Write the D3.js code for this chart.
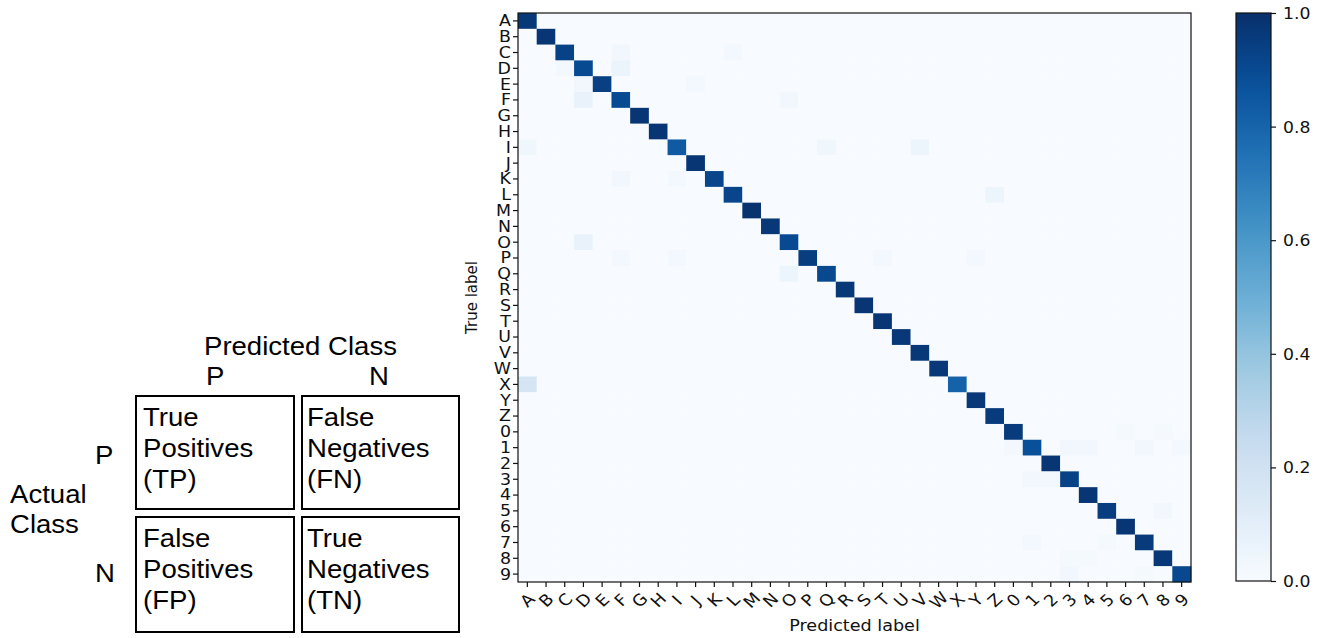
<!DOCTYPE html>
<html>
<head>
<meta charset="utf-8">
<script src="https://cdn.jsdelivr.net/npm/d3@7/dist/d3.min.js"></script>
<style>
  html, body { margin: 0; padding: 0; background: #fff; }
  svg { display: block; }
</style>
</head>
<body>
<svg id="chart" width="1324" height="638"></svg>
<script>
// ---------------- DATA ----------------
const classLabels = ["A","B","C","D","E","F","G","H","I","J","K","L","M","N","O","P","Q","R",
  "S","T","U","V","W","X","Y","Z","0","1","2","3","4","5","6","7","8","9"];

// diagonal (correct) rates per class, in classLabels order
const diagValues = [0.97,0.98,0.93,0.90,0.94,0.90,0.98,0.98,0.84,0.98,0.92,0.92,0.99,0.97,0.90,0.95,0.91,0.97,
  0.98,0.98,0.97,0.97,0.97,0.81,0.97,0.96,0.96,0.88,0.98,0.93,0.98,0.95,0.98,0.96,0.97,0.91];

// off-diagonal confusions: true label, predicted label, rate
const offRows   = ["C","C","D","D","E","E","F","F","I","I","I","K","K","L","O","P","P","P","P","Q","X",
  "0","0","1","1","1","1","1","3","3","5","7","7","8","8","9","9"];
const offCols   = ["F","L","C","F","D","J","D","O","A","Q","V","F","I","Z","D","F","I","T","Y","O","A",
  "6","8","0","3","4","7","9","1","2","8","1","5","3","4","3","7"];
const offValues = [0.03,0.02,0.02,0.06,0.03,0.02,0.07,0.03,0.04,0.04,0.05,0.03,0.02,0.05,0.07,0.02,0.02,0.02,0.02,0.05,0.17,
  0.015,0.015,0.02,0.03,0.03,0.03,0.02,0.03,0.03,0.03,0.02,0.015,0.015,0.015,0.03,0.015];

const colorbarTicks = [0, 0.2, 0.4, 0.6, 0.8, 1.0];
const bluesStops = ["#f7fbff","#deebf7","#c6dbef","#9ecae1","#6baed6","#4292c6","#2171b5","#08519c","#08306b"];

// schematic confusion-matrix labels
const schemaTitle = "Predicted Class";
const schemaColHeads = ["P","N"];
const schemaRowHeads = ["P","N"];
const schemaRowTitle = ["Actual","Class"];
const schemaCells = [
  ["True","Positives","(TP)"], ["False","Negatives","(FN)"],
  ["False","Positives","(FP)"], ["True","Negatives","(TN)"]
];

// ---------------- BUILD MATRIX ----------------
const matrix = [];
classLabels.forEach((r, i) => classLabels.forEach((c, j) => {
  matrix.push({row: r, col: c, v: i === j ? diagValues[i] : 0});
}));
offRows.forEach((r, k) => {
  const cell = matrix.find(d => d.row === r && d.col === offCols[k]);
  cell.v = offValues[k];
});

// ---------------- DRAW ----------------
const svg = d3.select("#chart");
const tickFont = "'DejaVu Sans', sans-serif";

const plot = {left: 518, right: 1191, top: 13, bottom: 582};
const x = d3.scaleBand().domain(classLabels).range([plot.left, plot.right]);
const y = d3.scaleBand().domain(classLabels).range([plot.top, plot.bottom]);
const color = d3.scaleLinear()
  .domain(bluesStops.map((_, i) => i / (bluesStops.length - 1)))
  .range(bluesStops)
  .clamp(true);

svg.append("g").selectAll("rect").data(matrix).join("rect")
  .attr("x", d => x(d.col))
  .attr("y", d => y(d.row))
  .attr("width", x.bandwidth() + 0.3)
  .attr("height", y.bandwidth() + 0.3)
  .attr("fill", d => color(d.v));

svg.append("rect")
  .attr("x", plot.left).attr("y", plot.top)
  .attr("width", plot.right - plot.left).attr("height", plot.bottom - plot.top)
  .attr("fill", "none").attr("stroke", "#111").attr("stroke-width", 1.2);

// y axis
const gy = svg.append("g").attr("transform", `translate(${plot.left},0)`)
  .call(d3.axisLeft(y).tickSize(5).tickSizeOuter(0));
gy.select(".domain").remove();
gy.selectAll(".tick line").attr("stroke", "#111").attr("stroke-width", 1.2);
gy.selectAll(".tick text")
  .attr("x", null).attr("dy", "0.36em")
  .attr("transform", `translate(-7,0) scale(1.16,1)`)
  .attr("text-anchor", "end")
  .style("font-family", tickFont).style("font-size", "15px").attr("fill", "#111");

// x axis
const gx = svg.append("g").attr("transform", `translate(0,${plot.bottom})`)
  .call(d3.axisBottom(x).tickSize(5).tickSizeOuter(0));
gx.select(".domain").remove();
gx.selectAll(".tick line").attr("stroke", "#111").attr("stroke-width", 1.2);
gx.selectAll(".tick text")
  .attr("y", null).attr("dy", "0.36em")
  .attr("transform", `translate(0,18) scale(1.1,1) rotate(-45)`)
  .attr("text-anchor", "middle")
  .style("font-family", tickFont).style("font-size", "16px").attr("fill", "#111");

svg.append("text")
  .attr("transform", `translate(${(plot.left + plot.right) / 2},631) scale(1.1,1)`)
  .attr("text-anchor", "middle")
  .style("font-family", tickFont).style("font-size", "16px").attr("fill", "#111")
  .text("Predicted label");

svg.append("text")
  .attr("transform", `translate(477,${(plot.top + plot.bottom) / 2}) scale(1.1,1) rotate(-90)`)
  .attr("text-anchor", "middle")
  .style("font-family", tickFont).style("font-size", "15px").attr("fill", "#111")
  .text("True label");

// colorbar
const cb = {left: 1236, right: 1271, top: 13, bottom: 581};
const cy = d3.scaleLinear().domain([0, 1]).range([cb.bottom, cb.top]);
const defs = svg.append("defs");
const grad = defs.append("linearGradient").attr("id", "cbgrad")
  .attr("x1", 0).attr("y1", 1).attr("x2", 0).attr("y2", 0);
grad.selectAll("stop").data(d3.range(0, 1.0001, 0.05)).join("stop")
  .attr("offset", d => d).attr("stop-color", d => color(d));
svg.append("rect")
  .attr("x", cb.left).attr("y", cb.top)
  .attr("width", cb.right - cb.left).attr("height", cb.bottom - cb.top)
  .attr("fill", "url(#cbgrad)").attr("stroke", "#111").attr("stroke-width", 1.2);
const gc = svg.append("g").attr("transform", `translate(${cb.right},0)`)
  .call(d3.axisRight(cy).tickValues(colorbarTicks).tickFormat(d3.format(".1f")).tickSize(5).tickSizeOuter(0));
gc.select(".domain").remove();
gc.selectAll(".tick line").attr("stroke", "#111").attr("stroke-width", 1.2);
gc.selectAll(".tick text")
  .attr("x", null).attr("dy", "0.36em")
  .attr("transform", `translate(12,0) scale(1.15,1)`)
  .attr("text-anchor", "start")
  .style("font-family", tickFont).style("font-size", "15px").attr("fill", "#111");

// ---------------- SCHEMATIC ----------------
const sFont = "'Liberation Sans', Arial, sans-serif";
const SS = 1.06;
function sText(tx, ty, str) {
  svg.append("text")
    .attr("transform", `translate(${tx},${ty}) scale(${SS},1)`)
    .style("font-family", sFont).style("font-size", "26px").attr("fill", "#000")
    .text(str);
}
sText(204, 355, schemaTitle);
const colX = [206, 369];
schemaColHeads.forEach((t, i) => sText(colX[i], 385, t));
const rowY = [464, 582];
schemaRowHeads.forEach((t, i) => sText(95, rowY[i], t));
schemaRowTitle.forEach((t, i) => sText(10, 503 + i * 30, t));

const boxes = [
  {x: 136, y: 396, w: 158, h: 113, tx: 143, ty: 426},
  {x: 302, y: 396, w: 157, h: 113, tx: 307, ty: 426},
  {x: 136, y: 517, w: 158, h: 115, tx: 143, ty: 547},
  {x: 302, y: 517, w: 157, h: 115, tx: 307, ty: 547}
];
boxes.forEach((b, i) => {
  svg.append("rect").attr("x", b.x).attr("y", b.y).attr("width", b.w).attr("height", b.h)
    .attr("fill", "none").attr("stroke", "#000").attr("stroke-width", 2);
  schemaCells[i].forEach((line, k) => sText(b.tx, b.ty + k * 31, line));
});
</script>
</body>
</html>
